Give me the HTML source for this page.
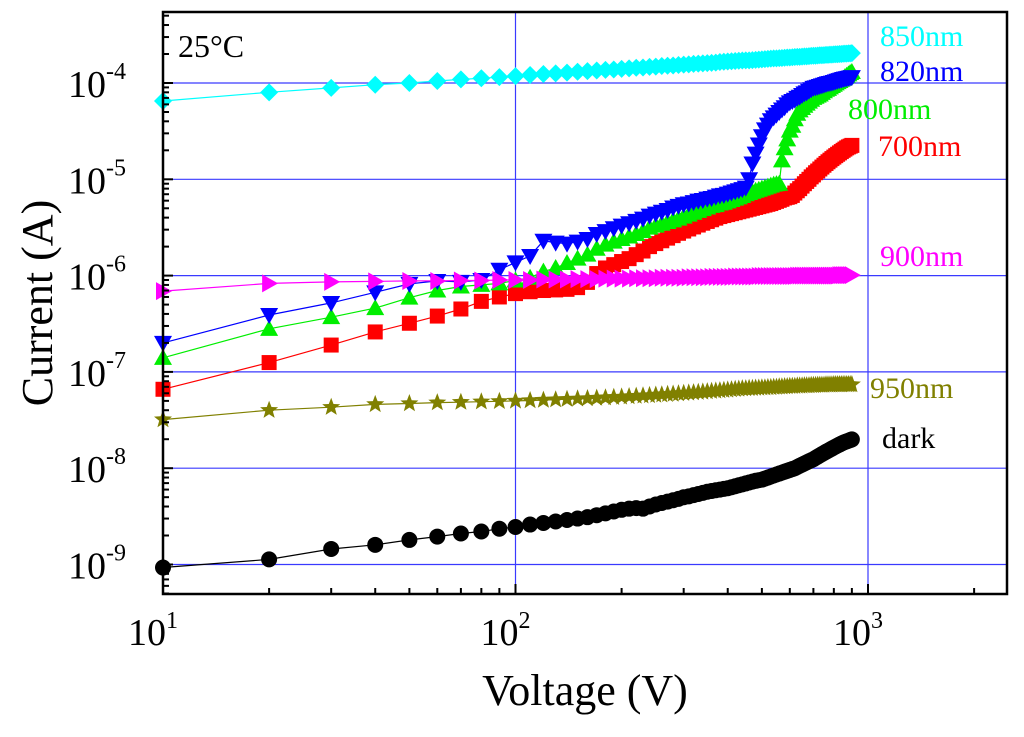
<!DOCTYPE html>
<html><head><meta charset="utf-8"><style>
body{margin:0;background:#fff;}
svg text{font-family:"Liberation Serif",serif;}
</style></head><body>
<svg id="chart" width="1024" height="732" xmlns="http://www.w3.org/2000/svg">
<g id="grid"></g>
<g id="series"></g>
<rect x="163" y="12" width="844" height="582" fill="none" stroke="#000" stroke-width="2.5"/>
<g id="ticks"></g>
<text x="178" y="57" font-size="32">25°C</text>
<text transform="translate(52,303) rotate(-90)" text-anchor="middle" font-size="44">Current (A)</text>
<text x="585" y="705" text-anchor="middle" font-size="44">Voltage (V)</text>
</svg>
<script>
const voltages=[];
for(let v=10;v<=900;v+=10)voltages.push(v);
const cyan850=[6.5,8.0,8.9,9.6,10.0,10.5,10.9,11.2,11.5,11.8,
12.1,12.4,12.6,12.8,13.1,13.3,13.5,13.7,13.8,14.0,
14.2,14.4,14.5,14.7,14.8,15.0,15.1,15.2,15.4,15.5,
15.6,15.8,15.9,16.0,16.1,16.2,16.3,16.5,16.6,16.7,
16.8,16.9,17.0,17.1,17.2,17.2,17.3,17.4,17.5,17.6,
17.7,17.8,17.9,18.0,18.0,18.1,18.2,18.3,18.4,18.4,
18.5,18.6,18.7,18.7,18.8,18.9,18.9,19.0,19.1,19.2,
19.2,19.3,19.4,19.4,19.5,19.6,19.6,19.7,19.7,19.8,
19.9,19.9,20.0,20.0,20.1,20.2,20.2,20.3,20.3,20.4];
const magenta900=[6.9,8.3,8.6,8.7,8.8,8.8,8.9,8.9,9.0,9.0,
9.0,9.1,9.1,9.1,9.2,9.2,9.2,9.3,9.3,9.3,
9.3,9.4,9.4,9.4,9.4,9.5,9.5,9.5,9.5,9.5,
9.6,9.6,9.6,9.6,9.6,9.7,9.7,9.7,9.7,9.7,
9.7,9.8,9.8,9.8,9.8,9.8,9.8,9.8,9.9,9.9,
9.9,9.9,9.9,9.9,9.9,9.9,9.9,9.9,9.9,9.9,
9.9,9.9,10,10,10,10,10,10,10,10,
10,10,10,10,10,10,10,10,10,10,
10,10,10.1,10.1,10.1,10.1,10.1,10.1,10.1,10.1];
const blue820=[2.0,3.9,5.2,6.7,8.2,8.8,8.6,9.0,11.5,13.7,
16,23,22,21.5,22.5,24,27,29,31,33,
35,37,39,42,44,46,48,51,53,55,
56,58,60,61,63,64,66,68,69,71,
73,75,77,79,82,100,146,185,230,280,
330,370,410,440,470,500,530,560,600,630,
650,670,700,720,750,780,800,830,860,890,
900,915,930,945,960,975,990,1000,1010,1025,
1040,1055,1070,1085,1100,1110,1120,1130,1140,1150];
const green800=[1.4,2.8,3.7,4.6,5.9,7.0,7.7,8.0,8.3,8.9,
9.5,11,12,13.5,15,16.5,19,21,22.5,24,
25.5,27,29,31.5,33,34.5,36,37.5,39,41,
43,45,47,49,51,53,54,56,57,59,
61,63,65,67,70,72,74,76,78,80,
82,84,86,88,89,90,157,210,260,320,
360,420,480,520,550,580,610,640,670,700,
720,740,760,790,820,850,870,900,930,960,
990,1020,1050,1080,1110,1150,1190,1230,1270,1300];
const red700=[6.6,12.5,19,26,32,38,45,54,60,65,
68,70,71,72,75,85,105,120,130,140,
150,165,180,200,215,230,245,260,275,290,
305,320,335,350,365,380,395,410,420,430,
440,450,460,470,480,490,500,510,520,530,
540,550,560,575,590,605,620,640,650,660,
680,720,760,800,850,900,950,1000,1060,1110,
1170,1220,1280,1340,1400,1460,1520,1580,1640,1700,
1760,1820,1880,1940,2000,2060,2120,2170,2210,2250];
const olive950=[32,40,43,46,47,48,48.5,49,49.5,50,
50.5,51,51.5,52,52.5,53,53.5,54,54.5,55,
55.5,56,56.5,57,57.5,58,58.5,59,59.5,60,
60.5,61,61.5,62,62.5,63,63.5,64,64.5,65,
65.5,66,66.5,67,67,67.5,67.5,68,68,68.5,
68.5,69,69,69.5,69.5,70,70,70.5,70.5,71,
71,71,71.5,71.5,71.5,72,72,72,72.5,72.5,
72.5,73,73,73,73,73.5,73.5,73.5,73.5,74,
74,74,74,74,74,74,74,74,74,74];
const dark=[9.3,11.3,14.5,16,18,19.5,21,22,23.5,24.5,
26,27,28,29,30,31,32.5,34,35.5,37,
38,38.5,38,40,42,43.5,45,46.5,48,50,
51,52.5,54,55.5,57,58,59,60,61,62,
63.5,65,66.5,68,69.5,71,72.5,74,75,76,
78,80,82,84,86,88,90,92,94,96,
98,100,103,106,109,112,115,118,121,124,
128,132,136,140,144,148,152,156,160,164,
168,172,176,180,184,187,190,193,196,199];
const xTickExps=[1,2,3];
const yTickExps=[-4,-5,-6,-7,-8,-9];

const X0=163,DX=352.5,Y4=83,DY=96.3;
function xp(v){return X0+DX*(Math.log10(v)-1);}
function yp(c){return Y4+DY*(-4-Math.log10(c));}
const NS="http://www.w3.org/2000/svg";
function mk(tag,attrs,parent){const e=document.createElementNS(NS,tag);for(const k in attrs)e.setAttribute(k,attrs[k]);parent.appendChild(e);return e;}
const grid=document.getElementById('grid'),ticks=document.getElementById('ticks'),ser=document.getElementById('series'),svg=document.getElementById('chart');
const GC="#3a3aff";
xTickExps.forEach(e=>{const x=xp(Math.pow(10,e));
 if(e>1){const l=mk('line',{x1:x,x2:x,y1:12,y2:594,stroke:GC,'stroke-width':1.2},grid);
 
 }
 const t=mk('text',{x:x-10,y:645,'text-anchor':'middle','font-size':38},ticks);
 
 
 t.textContent='10';
 const s=mk('tspan',{dy:-17,'font-size':24},t);s.textContent=String(e);
});
yTickExps.forEach(e=>{const y=yp(Math.pow(10,e));
 const l=mk('line',{x1:163,x2:1007,y1:y,y2:y,stroke:GC,'stroke-width':1.2},grid);
 
 
 const t=mk('text',{x:126,y:y+14,'text-anchor':'end','font-size':38},ticks);
 
 
 t.textContent='10';
 const s=mk('tspan',{dy:-18,'font-size':24},t);s.textContent=String(e);
});
for(let e=1;e<=3;e++)for(let m=1;m<=9;m++){const v=m*Math.pow(10,e);const x=xp(v);if(x>1007)break;
 mk('line',{x1:x,x2:x,y1:594,y2:m==1?584:588,stroke:'#000','stroke-width':2},ticks);}
for(let e=-10;e<=-3;e++)for(let m=1;m<=9;m++){const y=yp(m*Math.pow(10,e));if(y<12||y>594)continue;
 mk('line',{x1:163,x2:m==1?173:169,y1:y,y2:y,stroke:'#000','stroke-width':2},ticks);}

function marker(shape,x,y,c,g){let el;
 if(shape==='circle')el=mk('circle',{cx:x,cy:y,r:8},g);
 else if(shape==='square')el=mk('rect',{x:x-7.5,y:y-7.5,width:15,height:15},g);
 else if(shape==='up')el=mk('polygon',{points:`${x},${y-9} ${x+9},${y+7} ${x-9},${y+7}`},g);
 else if(shape==='down')el=mk('polygon',{points:`${x},${y+9} ${x+9},${y-7} ${x-9},${y-7}`},g);
 else if(shape==='right')el=mk('polygon',{points:`${x+9},${y} ${x-7},${y-9} ${x-7},${y+9}`},g);
 else if(shape==='diamond')el=mk('polygon',{points:`${x},${y-9} ${x+9},${y} ${x},${y+9} ${x-9},${y}`},g);
 else {let p=[];for(let i=0;i<10;i++){const r=i%2?4:9.5,a=-Math.PI/2+i*Math.PI/5;p.push((x+r*Math.cos(a)).toFixed(1)+','+(y+r*Math.sin(a)).toFixed(1));}el=mk('polygon',{points:p.join(' ')},g);}
 el.setAttribute('fill',c);return el;}
const seriesList=[
 {name:'dark',d:dark,sc:1e-10,c:'#000',sh:'circle',lab:'dark',lx:882,ly:448},
 {name:'950nm',d:olive950,sc:1e-9,c:'#808000',sh:'star',lab:'950nm',lx:870,ly:398},
 {name:'700nm',d:red700,sc:1e-8,c:'#ff0000',sh:'square',lab:'700nm',lx:878,ly:156},
 {name:'800nm',d:green800,sc:1e-7,c:'#00ee00',sh:'up',lab:'800nm',lx:848,ly:119},
 {name:'820nm',d:blue820,sc:1e-7,c:'#0000ff',sh:'down',lab:'820nm',lx:880,ly:81},
 {name:'900nm',d:magenta900,sc:1e-7,c:'#ff00ff',sh:'right',lab:'900nm',lx:880,ly:266},
 {name:'850nm',d:cyan850,sc:1e-5,c:'#00ffff',sh:'diamond',lab:'850nm',lx:880,ly:46}];
seriesList.forEach(s=>{
 const g=mk('g',{},ser);
 
 
 const pts=voltages.map((v,i)=>xp(v).toFixed(1)+','+yp(s.d[i]*s.sc).toFixed(1)).join(' ');
 const pl=mk('polyline',{points:pts,fill:'none',stroke:s.c,'stroke-width':1.2},g);
 
 
 voltages.forEach((v,i)=>{const m=marker(s.sh,xp(v),yp(s.d[i]*s.sc),s.c,g);
  
  });
 const t=mk('text',{x:s.lx,y:s.ly,'font-size':30,fill:s.c},svg);
 
 
 t.textContent=s.lab;
});
</script>
</body></html>
